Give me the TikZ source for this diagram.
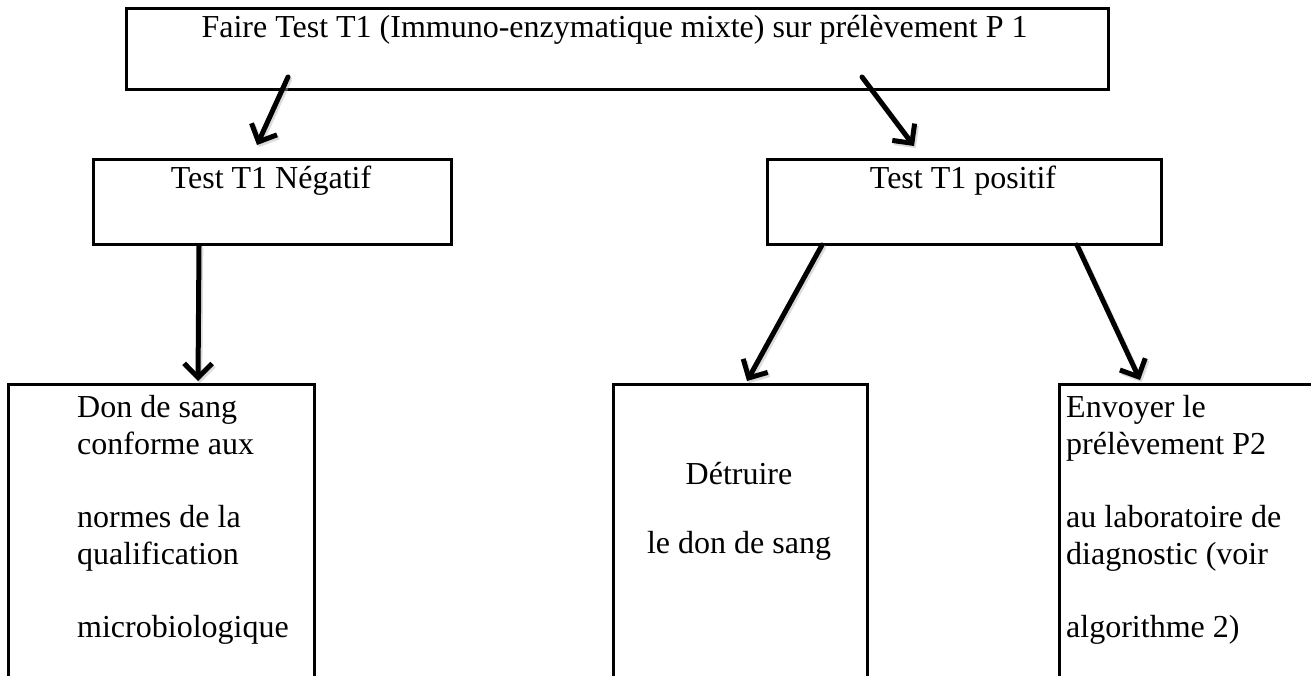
\documentclass[tikz,border=0pt]{standalone}
\usepackage{fontspec}
\setmainfont{Liberation Serif}
\usetikzlibrary{arrows.meta}
\begin{document}
\begin{tikzpicture}[x=1pt,y=-1pt,
  box/.style={draw=black, line width=2.6pt, rectangle, inner sep=0pt, anchor=north west},
  txt/.style={font=\fontsize{32}{37}\selectfont, inner sep=0pt, anchor=base},
  txtl/.style={txt, anchor=base west},
  flow/.style={line width=5pt, line cap=round, line join=round,
    -{Straight Barb[length=14pt,width=28pt,line width=5pt]}},
  flowshade/.style={flow, draw=black!30, opacity=0.45,
    transform canvas={shift={(1.8pt,-2.2pt)}}},
]
\useasboundingbox (0,0) rectangle (1311,675);
\clip (0,0) rectangle (1311,675);

% boxes
\node[box, minimum width=982pt, minimum height=81pt] (top) at (125,7) {};
\node[box, minimum width=358pt, minimum height=85pt] (neg) at (92,158) {};
\node[box, minimum width=394pt, minimum height=85pt] (pos) at (766,158) {};
\node[box, minimum width=306pt, minimum height=330pt] (keep) at (7,383) {};
\node[box, minimum width=254pt, minimum height=330pt] (drop) at (612,383) {};
\node[box, minimum width=300pt, minimum height=330pt] (send) at (1058,383) {};

% texts
\node[txt] (ttop) at (614.5,37) {Faire Test T1 (Immuno-enzymatique mixte) sur prélèvement P 1};
\node[txt] (tneg) at (271,188) {Test T1 Négatif};
\node[txt] (tpos) at (963,188) {Test T1 positif};

\node[txtl] (k1) at (77,417) {Don de sang};
\node[txtl] (k2) at (77,454) {conforme aux};
\node[txtl] (k3) at (77,527) {normes de la};
\node[txtl] (k4) at (77,564) {qualification};
\node[txtl] (k5) at (77,637) {microbiologique};

\node[txt] (d1) at (739,484) {Détruire};
\node[txt] (d2) at (739,553) {le don de sang};

\node[txtl] (s1) at (1066,417) {Envoyer le};
\node[txtl] (s2) at (1066,454) {prélèvement P2};
\node[txtl] (s3) at (1066,527) {au laboratoire de};
\node[txtl] (s4) at (1066,564) {diagnostic (voir};
\node[txtl] (s5) at (1066,637) {algorithme 2)};

% arrow end points
\coordinate (a1s) at (288,77);  \coordinate (a1e) at (257,145);
\coordinate (a2s) at (862,77);  \coordinate (a2e) at (914,146);
\coordinate (a3s) at (199,246); \coordinate (a3e) at (198,381);
\coordinate (a4s) at (822,245); \coordinate (a4e) at (747,381);
\coordinate (a5s) at (1077,245); \coordinate (a5e) at (1140,380);

% soft shadows under the arrows
\foreach \s/\e in {a1s/a1e, a2s/a2e, a3s/a3e, a4s/a4e, a5s/a5e}
  \draw[flowshade] (\s) -- (\e);
% arrows
\foreach \s/\e in {a1s/a1e, a2s/a2e, a3s/a3e, a4s/a4e, a5s/a5e}
  \draw[flow] (\s) -- (\e);
\end{tikzpicture}
\end{document}
